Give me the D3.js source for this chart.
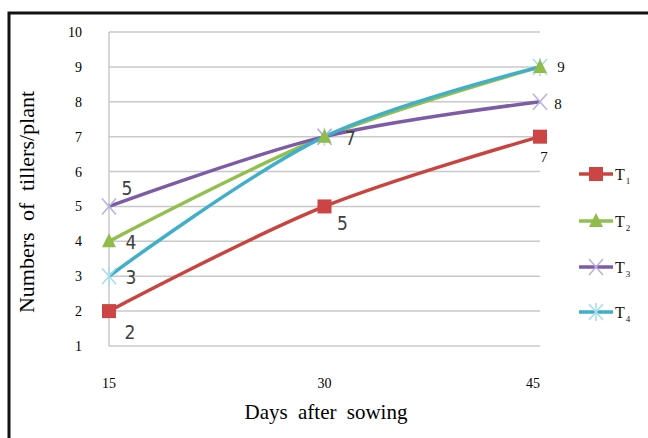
<!DOCTYPE html>
<html>
<head>
<meta charset="utf-8">
<script src="https://cdn.jsdelivr.net/npm/d3@7"></script>
<style>
  body { margin: 0; background: #fff; }
  svg { display: block; }
</style>
</head>
<body>
<div id="chart"></div>
<script>
const days = [15, 30, 45];
const yTicks = [1, 2, 3, 4, 5, 6, 7, 8, 9, 10];
const seriesNames = ["T1", "T2", "T3", "T4"];
const t1 = [2, 5, 7];
const t2 = [4, 7, 9];
const t3 = [5, 7, 8];
const t4 = [3, 7, 9];

const W = 648, H = 438;
const plot = { left: 109, right: 540, top: 32, bottom: 346 };

const svg = d3.select("#chart").append("svg")
    .attr("width", W)
    .attr("height", H);

// outer frame (only left and top edges visible)
svg.append("path")
    .attr("d", `M9,${H + 5} L9,13 L${W + 5},13`)
    .attr("fill", "none")
    .attr("stroke", "#111")
    .attr("stroke-width", 3);

const x = d3.scaleLinear().domain([15, 45]).range([plot.left, plot.right]);
const y = d3.scaleLinear().domain([1, 10]).range([plot.bottom, plot.top]);

// gridlines
svg.append("g")
    .selectAll("line")
    .data(yTicks)
    .enter()
    .append("line")
    .attr("x1", plot.left)
    .attr("x2", plot.right)
    .attr("y1", d => y(d))
    .attr("y2", d => y(d))
    .attr("stroke", "#c8c8c8")
    .attr("stroke-width", 1.5);

svg.append("line")
    .attr("x1", plot.left).attr("x2", plot.left)
    .attr("y1", plot.top).attr("y2", plot.bottom)
    .attr("stroke", "#c8c8c8")
    .attr("stroke-width", 1.5);

// y tick labels
svg.append("g")
    .selectAll("text")
    .data(yTicks)
    .enter()
    .append("text")
    .attr("x", 82)
    .attr("y", d => y(d) + 5)
    .attr("text-anchor", "end")
    .attr("font-family", "Liberation Serif, Times New Roman, serif")
    .attr("font-size", 14)
    .text(d => d);

// x tick labels
svg.append("g")
    .selectAll("text")
    .data(days)
    .enter()
    .append("text")
    .attr("x", d => x(d) - (d === 45 ? 7 : 0))
    .attr("y", 388)
    .attr("text-anchor", "middle")
    .attr("font-family", "Liberation Serif, Times New Roman, serif")
    .attr("font-size", 14)
    .text(d => d);

// axis titles
svg.append("text")
    .attr("x", 326)
    .attr("y", 419)
    .attr("text-anchor", "middle")
    .attr("font-family", "Liberation Serif, Times New Roman, serif")
    .attr("font-size", 21)
    .attr("word-spacing", 5)
    .text("Days after sowing");

svg.append("text")
    .attr("transform", "translate(34,202) rotate(-90)")
    .attr("text-anchor", "middle")
    .attr("font-family", "Liberation Serif, Times New Roman, serif")
    .attr("font-size", 22)
    .attr("word-spacing", 6)
    .text("Numbers of tillers/plant");

const colors = ["#c9443f", "#93bf4e", "#7d5ba6", "#3fafca"];
const markers = ["square", "triangle", "x", "star"];
const series = [t1, t2, t3, t4].map((values, k) => ({
    name: seriesNames[k], values: values, color: colors[k], marker: markers[k]
}));

const line = d3.line()
    .x(d => x(d.day))
    .y(d => y(d.v))
    .curve(d3.curveCatmullRom.alpha(0.5));

const drawMarker = (g, type, cx, cy) => {
    if (type === "square") {
        g.append("rect")
            .attr("x", cx - 7).attr("y", cy - 7)
            .attr("width", 14).attr("height", 14)
            .attr("fill", "#cc4444");
    } else if (type === "triangle") {
        g.append("path")
            .attr("d", `M${cx},${cy - 8} L${cx + 7},${cy + 6} L${cx - 7},${cy + 6} Z`)
            .attr("fill", "#8fbc4a");
    } else if (type === "x") {
        g.append("path")
            .attr("d", `M${cx - 7},${cy - 8} L${cx + 7},${cy + 8} M${cx + 7},${cy - 8} L${cx - 7},${cy + 8}`)
            .attr("stroke", "#b8b0dc")
            .attr("stroke-width", 1.5)
            .attr("fill", "none");
    } else {
        g.append("path")
            .attr("d", `M${cx - 7},${cy - 8} L${cx + 7},${cy + 8} M${cx + 7},${cy - 8} L${cx - 7},${cy + 8} M${cx},${cy - 9} L${cx},${cy + 9}`)
            .attr("stroke", "#a8dcec")
            .attr("stroke-width", 1.5)
            .attr("fill", "none");
    }
};

series.forEach(s => {
    const pts = days.map((day, i) => ({ day: day, v: s.values[i] }));
    svg.append("path")
        .datum(pts)
        .attr("fill", "none")
        .attr("stroke", s.color)
        .attr("stroke-width", 3.5)
        .attr("d", line);
});

// markers on top of lines
series.slice().reverse().forEach(s => {
    const g = svg.append("g");
    days.forEach((day, i) => drawMarker(g, s.marker, x(day), y(s.values[i])));
});

// data labels
const sansLabels = [
    { s: 0, i: 0, dx: 21, dy: 28 },
    { s: 0, i: 1, dx: 18, dy: 24 },
    { s: 1, i: 0, dx: 22, dy: 8 },
    { s: 1, i: 1, dx: 26, dy: 8 },
    { s: 2, i: 0, dx: 18, dy: -11 },
    { s: 3, i: 0, dx: 22, dy: 8 }
];
const serifLabels = [
    { s: 0, i: 2, dx: 4, dy: 25 },
    { s: 1, i: 2, dx: 21, dy: 5 },
    { s: 2, i: 2, dx: 18, dy: 7 }
];

svg.append("g")
    .selectAll("text")
    .data(sansLabels)
    .enter()
    .append("text")
    .attr("x", d => x(days[d.i]) + d.dx)
    .attr("y", d => y(series[d.s].values[d.i]) + d.dy)
    .attr("text-anchor", "middle")
    .attr("font-family", "Liberation Sans Narrow, DejaVu Sans Condensed, sans-serif")
    .attr("font-size", 19)
    .attr("fill", "#404040")
    .text(d => series[d.s].values[d.i]);

svg.append("g")
    .selectAll("text")
    .data(serifLabels)
    .enter()
    .append("text")
    .attr("x", d => x(days[d.i]) + d.dx)
    .attr("y", d => y(series[d.s].values[d.i]) + d.dy)
    .attr("text-anchor", "middle")
    .attr("font-family", "Liberation Serif, Times New Roman, serif")
    .attr("font-size", 15)
    .attr("fill", "#111")
    .text(d => series[d.s].values[d.i]);

// legend
const legendY = [174, 221, 267, 312];
series.forEach((s, k) => {
    const g = svg.append("g");
    const ly = legendY[k];
    g.append("line")
        .attr("x1", 579).attr("x2", 613)
        .attr("y1", ly).attr("y2", ly)
        .attr("stroke", s.color)
        .attr("stroke-width", 3.5);
    drawMarker(g, s.marker, 596, ly);
    const t = g.append("text")
        .attr("x", 615)
        .attr("y", ly + 6)
        .attr("font-family", "Liberation Serif, Times New Roman, serif")
        .attr("font-size", 16)
        .attr("fill", "#111");
    t.append("tspan").text(s.name[0]);
    t.append("tspan")
        .attr("dy", 4)
        .attr("dx", 1)
        .attr("font-size", 9)
        .text(s.name.slice(1));
});
</script>
</body>
</html>
